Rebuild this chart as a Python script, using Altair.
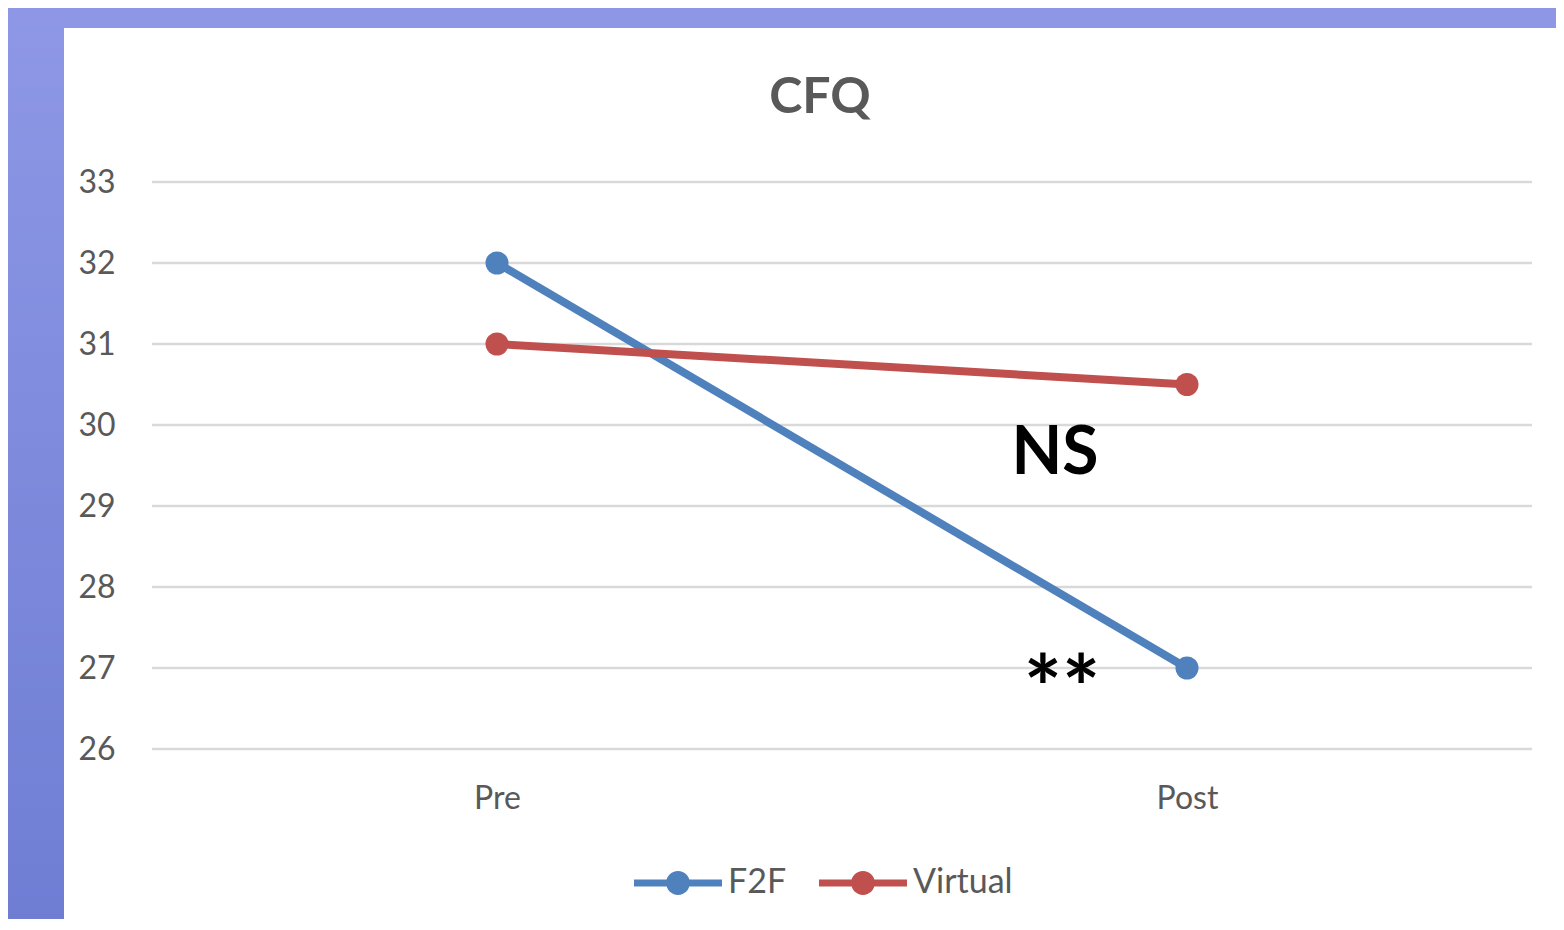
import altair as alt
import pandas as pd

# ---- data ----
series = ["F2F", "F2F", "Virtual", "Virtual"]
phase = ["Pre", "Post", "Pre", "Post"]
values = [32, 27, 31, 30.5]
y_ticks = [26, 27, 28, 29, 30, 31, 32, 33]
ann_text = ["NS", "**"]
ann_phase = ["Post", "Post"]
ann_value = [29.64, 26.35]
series_names = ["F2F", "Virtual"]
series_colors = ["#4F81BD", "#C0504D"]
phase_order = ["Pre", "Post"]
chart_title = ["CFQ"]

W, H = 1380, 567
FONT = "Lato"
GREY = "#595959"

df = pd.DataFrame({"series": series, "phase": phase, "value": values})
grid_df = pd.DataFrame({"value": y_ticks})
ann_df = pd.DataFrame({"text": ann_text, "phase": ann_phase, "value": ann_value})
title_df = pd.DataFrame({"text": chart_title})

x_scale = alt.Scale(domain=phase_order, type="point", padding=0.5)
y_scale = alt.Scale(domain=[26, 33], nice=False, zero=False)

one_row = alt.Data(values=[{"a": 1}])

# slide background (gradient) and white chart panel
bg = alt.Chart(one_row).mark_rect(
    color=alt.Gradient(
        gradient="linear",
        stops=[alt.GradientStop(color="#8E98E6", offset=0),
               alt.GradientStop(color="#6E7DD3", offset=1)],
        x1=0, x2=0, y1=0, y2=1,
    )
).encode(x=alt.value(-160), x2=alt.value(1430), y=alt.value(-190), y2=alt.value(760))

panel = alt.Chart(one_row).mark_rect(color="white").encode(
    x=alt.value(-88), x2=alt.value(1430), y=alt.value(-154), y2=alt.value(760)
)

title_mark = alt.Chart(title_df).mark_text(
    font=FONT, fontWeight="bold", fontSize=50, color=GREY,
    align="center", baseline="alphabetic"
).encode(x=alt.value(668), y=alt.value(-69), text="text:N")

grid = alt.Chart(grid_df).mark_rule(color="#D9D9D9", strokeWidth=2.5).encode(
    y=alt.Y("value:Q", scale=y_scale)
)

legend_symbol = ("M-1,-0.08 L1,-0.08 L1,0.08 L-1,0.08 Z "
                 "M0.27,0 A0.27,0.27 0 1,1 -0.27,0 A0.27,0.27 0 1,1 0.27,0 Z")

leg = alt.Legend(title=None, orient="none", direction="horizontal",
                 legendX=482, legendY=657, zindex=1,
                 symbolType=legend_symbol, symbolSize=7744,
                 symbolStrokeWidth=0, symbolOpacity=1,
                 labelFontSize=34, labelFont=FONT,
                 labelColor=GREY, labelOffset=6,
                 columnPadding=32)

color_scale = alt.Scale(domain=series_names, range=series_colors)

base = alt.Chart(df)

lines = base.mark_line(strokeWidth=8).encode(
    x=alt.X("phase:N", scale=x_scale, sort=phase_order,
            axis=alt.Axis(title=None, domain=False, ticks=False, grid=False,
                          labelFontSize=32, labelFont=FONT, labelColor=GREY,
                          labelPadding=34, labelAngle=0, zindex=1)),
    y=alt.Y("value:Q", scale=y_scale,
            axis=alt.Axis(title=None, domain=False, ticks=False, grid=False,
                          values=y_ticks, format="d",
                          labelFontSize=32, labelFont=FONT, labelColor=GREY,
                          labelPadding=37, zindex=1)),
    color=alt.Color("series:N", scale=color_scale, legend=leg),
    detail="series:N",
)

points = base.mark_circle(size=530, opacity=1).encode(
    x=alt.X("phase:N", scale=x_scale, sort=phase_order),
    y=alt.Y("value:Q", scale=y_scale),
    color=alt.Color("series:N", scale=color_scale, legend=leg),
)

ann_ns = alt.Chart(ann_df.iloc[[0]]).mark_text(
    font=FONT, fontWeight="bold", fontSize=66, color="black",
    dx=-132, baseline="middle", align="center"
).encode(x=alt.X("phase:N", scale=x_scale), y=alt.Y("value:Q", scale=y_scale),
         text="text:N")

ann_star = alt.Chart(ann_df.iloc[[1]]).mark_text(
    font=FONT, fontWeight="bold", fontSize=90, color="black",
    dx=-125, baseline="alphabetic", align="center"
).encode(x=alt.X("phase:N", scale=x_scale), y=alt.Y("value:Q", scale=y_scale),
         text="text:N")

chart = alt.layer(bg, panel, title_mark, grid, lines, points, ann_ns, ann_star).properties(
    width=W, height=H,
    autosize=alt.AutoSizeParams(type="none"),
    padding={"left": 144, "top": 174, "right": 24, "bottom": 170},
).configure_view(stroke=None).configure(background="#8E98E6")

chart.save("out.html", embed_options={"renderer": "svg", "actions": False})
